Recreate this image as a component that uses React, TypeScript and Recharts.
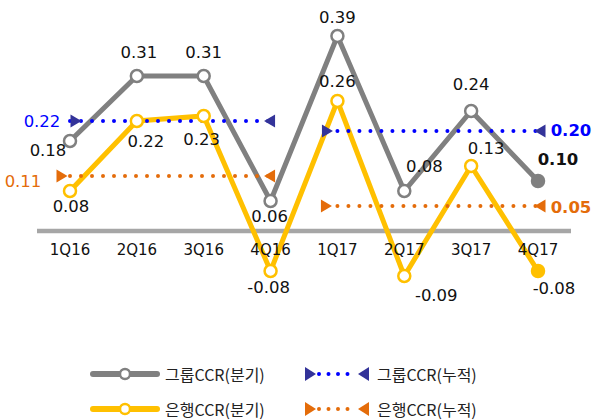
import { LineChart, Line, XAxis, YAxis, LabelList, ReferenceLine } from "recharts";

const categories = ["1Q16", "2Q16", "3Q16", "4Q16", "1Q17", "2Q17", "3Q17", "4Q17"];
const groupQuarter = [0.18, 0.31, 0.31, 0.06, 0.39, 0.08, 0.24, 0.1];
const bankQuarter = [0.08, 0.22, 0.23, -0.08, 0.26, -0.09, 0.13, -0.08];
const groupCum16 = [0.22, 0.22, 0.22, 0.22, null, null, null, null];
const groupCum17 = [null, null, null, null, 0.2, 0.2, 0.2, 0.2];
const bankCum16 = [0.11, 0.11, 0.11, 0.11, null, null, null, null];
const bankCum17 = [null, null, null, null, 0.05, 0.05, 0.05, 0.05];
const legendNames = ["그룹CCR(분기)", "그룹CCR(누적)", "은행CCR(분기)", "은행CCR(누적)"];

const data = categories.map((q, i) => ({
  q,
  groupQ: groupQuarter[i],
  bankQ: bankQuarter[i],
  gc16: groupCum16[i],
  gc17: groupCum17[i],
  bc16: bankCum16[i],
  bc17: bankCum17[i],
}));

const GRAY = "#808080";
const YELLOW = "#ffc000";
const BLUE = "#0000ff";
const NAVY = "#333399";
const ORANGE = "#e46c0a";
const FONT = "'DejaVu Sans', 'Noto Sans CJK KR', sans-serif";
const KFONT = "'Noto Sans CJK KR', 'Noto Sans', sans-serif";

// label offsets [dx, dy] per point
const groupOff = [[-22, 9], [2, -24], [0, -24], [-1, 15], [0, -19], [20, -25], [0, -27], [20, -22]];
const bankOff = [[1, 15], [9, 20], [-2, 23], [-2, 16], [0, -20], [32, 19], [15, -18], [16, 17]];

const fmt = (v: number) => v.toFixed(2);

function quarterLabel(off: number[][], boldIdx: number) {
  return (p: any) => {
    const i = p.index;
    const [dx, dy] = off[i];
    return (
      <text
        x={p.x + dx}
        y={p.y + dy}
        textAnchor="middle"
        dominantBaseline="central"
        fontSize={16.5}
        fontFamily={FONT}
        fontWeight={i === boldIdx ? 700 : 400}
        fill="#111"
      >
        {fmt(p.value)}
      </text>
    );
  };
}

function quarterDot(color: string, last: number) {
  return (p: any) => (
    <circle
      key={p.index}
      cx={p.cx}
      cy={p.cy}
      r={6}
      fill={p.index === last ? color : "#fff"}
      stroke={color}
      strokeWidth={2.5}
    />
  );
}

function triDot(color: string, first: number, last: number, startDx: number, endDx: number) {
  return (p: any) => {
    if (p.value == null || (p.index !== first && p.index !== last)) return <g key={p.index} />;
    const w = 11;
    const h = 6.5;
    if (p.index === first) {
      const cx = p.cx + startDx;
      return (
        <path
          key={p.index}
          d={`M${cx - w / 2},${p.cy - h} L${cx + w / 2},${p.cy} L${cx - w / 2},${p.cy + h} Z`}
          fill={color}
        />
      );
    }
    const cx = p.cx + endDx;
    return (
      <path
        key={p.index}
        d={`M${cx + w / 2},${p.cy - h} L${cx - w / 2},${p.cy} L${cx + w / 2},${p.cy + h} Z`}
        fill={color}
      />
    );
  };
}

function cumLabel(color: string, idx: number, dx: number, dy: number, bold: boolean) {
  return (p: any) => {
    if (p.index !== idx) return null;
    return (
      <text
        x={p.x + dx}
        y={p.y + dy}
        textAnchor="middle"
        dominantBaseline="central"
        fontSize={16.5}
        fontFamily={FONT}
        fontWeight={bold ? 700 : 400}
        fill={color}
      >
        {fmt(p.value)}
      </text>
    );
  };
}

function QuarterTick(p: any) {
  return (
    <text
      x={p.x}
      y={p.y - 31}
      textAnchor="middle"
      dominantBaseline="central"
      fontSize={15}
      fontFamily={FONT}
      fill="#111"
    >
      {p.payload.value}
    </text>
  );
}

function Legend() {
  const rows = [
    { y: 374, x: 93, kind: "solid", color: GRAY, tx: 165, name: legendNames[0] },
    { y: 374, x: 305, kind: "dot", color: BLUE, tri: NAVY, tx: 377, name: legendNames[1] },
    { y: 409, x: 93, kind: "solid", color: YELLOW, tx: 165, name: legendNames[2] },
    { y: 409, x: 305, kind: "dot", color: ORANGE, tri: ORANGE, tx: 377, name: legendNames[3] },
  ];
  return (
    <svg width={593} height={420} style={{ position: "absolute", left: 0, top: 0, pointerEvents: "none" }}>
      {rows.map((r) => (
        <g key={r.name}>
          {r.kind === "solid" ? (
            <>
              <line x1={r.x} x2={r.x + 64} y1={r.y} y2={r.y} stroke={r.color} strokeWidth={6} strokeLinecap="round" />
              <circle cx={r.x + 32} cy={r.y} r={5} fill="#fff" stroke={r.color} strokeWidth={2.5} />
            </>
          ) : (
            <>
              <line
                x1={r.x + 14}
                x2={r.x + 52}
                y1={r.y}
                y2={r.y}
                stroke={r.color}
                strokeWidth={4}
                strokeDasharray="0 9.5"
                strokeLinecap="round"
              />
              <path d={`M${r.x},${r.y - 7} L${r.x + 11},${r.y} L${r.x},${r.y + 7} Z`} fill={r.tri} />
              <path d={`M${r.x + 64},${r.y - 7} L${r.x + 53},${r.y} L${r.x + 64},${r.y + 7} Z`} fill={r.tri} />
            </>
          )}
          <text x={r.tx} y={r.y} dominantBaseline="central" fontSize={16} fontFamily={KFONT} fill="#222">
            {r.name}
          </text>
        </g>
      ))}
    </svg>
  );
}

export default function App() {
  return (
    <div style={{ position: "absolute", left: 0, top: 0, width: 593, height: 420, background: "#fff" }}>
      <LineChart
        width={593}
        height={420}
        data={data}
        margin={{ top: 21, right: 22, left: 37, bottom: 109 }}
        style={{ overflow: "visible" }}
      >
        <XAxis
          dataKey="q"
          axisLine={false}
          tickLine={false}
          tickSize={0}
          tickMargin={0}
          padding={{ left: 33, right: 33 }}
          tick={<QuarterTick />}
          height={30}
        />
        <YAxis hide domain={[-0.1, 0.42]} />
        <ReferenceLine y={0} stroke="#a6a6a6" strokeWidth={4.5} />
        <Line
          dataKey="groupQ"
          stroke={GRAY}
          strokeWidth={5}
          dot={quarterDot(GRAY, 7)}
          isAnimationActive={false}
        >
          <LabelList dataKey="groupQ" content={quarterLabel(groupOff, 7)} />
        </Line>
        <Line
          dataKey="bankQ"
          stroke={YELLOW}
          strokeWidth={5}
          dot={quarterDot(YELLOW, 7)}
          isAnimationActive={false}
        >
          <LabelList dataKey="bankQ" content={quarterLabel(bankOff, -1)} />
        </Line>
        <Line
          dataKey="gc16"
          stroke={BLUE}
          strokeWidth={4}
          strokeDasharray="0 11"
          strokeLinecap="round"
          dot={triDot(NAVY, 0, 3, 6, -1)}
          isAnimationActive={false}
        >
          <LabelList dataKey="gc16" content={cumLabel(BLUE, 0, -28, 0, false)} />
        </Line>
        <Line
          dataKey="gc17"
          stroke={BLUE}
          strokeWidth={4}
          strokeDasharray="0 11"
          strokeLinecap="round"
          dot={triDot(NAVY, 4, 7, -10, 2)}
          isAnimationActive={false}
        >
          <LabelList dataKey="gc17" content={cumLabel(BLUE, 7, 33, -1, true)} />
        </Line>
        <Line
          dataKey="bc16"
          stroke={ORANGE}
          strokeWidth={4}
          strokeDasharray="0 11"
          strokeLinecap="round"
          dot={triDot(ORANGE, 0, 3, -8, -1)}
          isAnimationActive={false}
        >
          <LabelList dataKey="bc16" content={cumLabel(ORANGE, 0, -47, 5, false)} />
        </Line>
        <Line
          dataKey="bc17"
          stroke={ORANGE}
          strokeWidth={4}
          strokeDasharray="0 11"
          strokeLinecap="round"
          dot={triDot(ORANGE, 4, 7, -11, 2)}
          isAnimationActive={false}
        >
          <LabelList dataKey="bc17" content={cumLabel(ORANGE, 7, 33, 1, true)} />
        </Line>
      </LineChart>
      <Legend />
    </div>
  );
}
